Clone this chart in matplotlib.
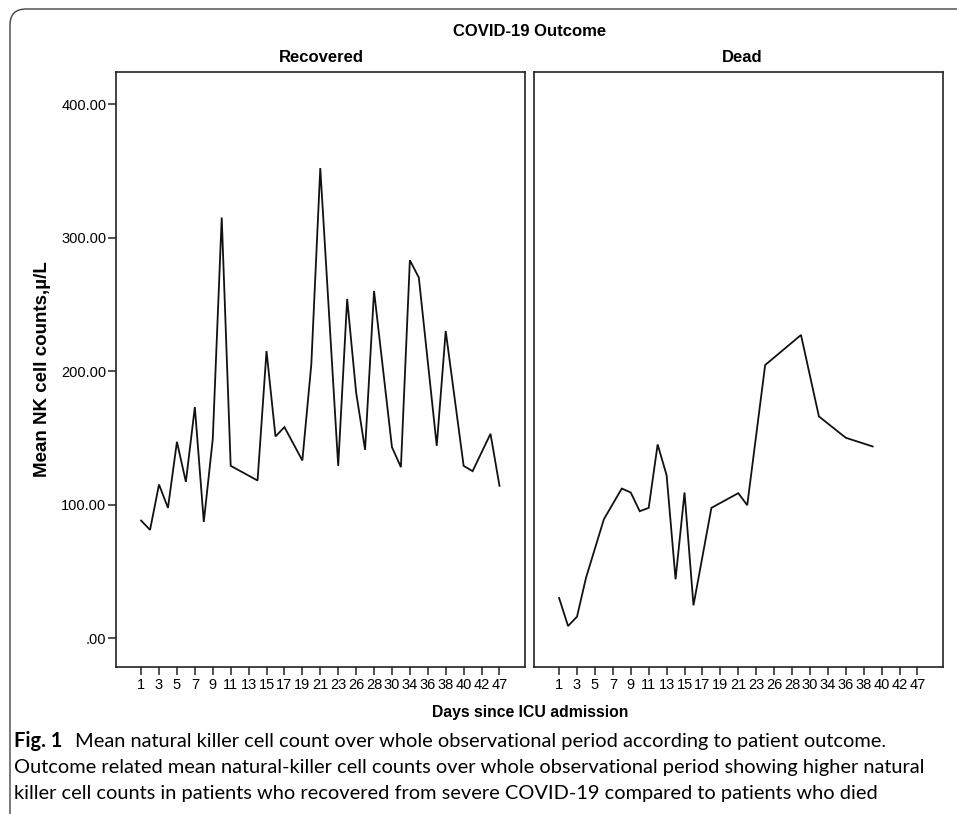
import numpy as np
import matplotlib
matplotlib.use("Agg")
import matplotlib.pyplot as plt
from matplotlib.patches import FancyBboxPatch
from matplotlib.transforms import IdentityTransform

plt.rcParams['font.family'] = ['Liberation Sans', 'DejaVu Sans']

# Day categories on the x axis (every other one labelled)
days = ["1", "2", "3", "4", "5", "6", "7", "8", "9", "10", "11", "12", "13", "14",
        "15", "16", "17", "18", "19", "20", "21", "22", "23", "25", "26", "27",
        "28", "29", "30", "32", "34", "35", "36", "37", "38", "39", "40", "41",
        "42", "44", "47"]

nan = np.nan
recovered = [88, 81, 115, 97.5, 147, 117, 173, 87, 149, 315, 129, nan, nan, 118,
             215, 151, 158, nan, 133, 205, 352, nan, 129, 254, 184, 141, 260, nan,
             143, 128, 283, 270, nan, 144, 230, nan, 129, 125, 139, 153, 114]
dead = [30, 9, 16, 45, nan, 89, nan, 112, 109, 95, 97.5, 145, 122, 44, 109, 24.5,
        nan, 97.5, nan, nan, 108.5, 99.5, nan, 204.5, nan, nan, nan, 227, nan, 166,
        nan, nan, 150, nan, nan, 143.5, nan, nan, nan, nan, nan]

yticks = [0, 100, 200, 300, 400]
ytick_labels = [".00", "100.00", "200.00", "300.00", "400.00"]

W, H = 957, 814
fig = plt.figure(figsize=(W / 100, H / 100), dpi=100)

top, bottom = 72, 667
axL = fig.add_axes([116 / W, 1 - bottom / H, (525 - 116) / W, (bottom - top) / H])
axR = fig.add_axes([534 / W, 1 - bottom / H, (943 - 534) / W, (bottom - top) / H])

x = np.arange(len(days))
for ax, vals in ((axL, recovered), (axR, dead)):
    v = np.array(vals, dtype=float)
    m = ~np.isnan(v)
    ax.plot(x[m], v[m], color='#111111', lw=1.3, solid_joinstyle='miter')
    ax.set_xlim(-2.8, len(days) - 1 + 2.85)
    ax.set_ylim(-21.7, 424)
    ax.set_xticks(x[::2])
    ax.set_xticklabels(days[::2], fontsize=10.5)
    for s in ax.spines.values():
        s.set_color('#222222')
        s.set_linewidth(1.2)
    ax.tick_params(axis='x', direction='out', length=6, width=1.1, color='#222222',
                   pad=2)

axL.set_yticks(yticks)
axL.set_yticklabels(ytick_labels, fontsize=10.5)
axL.tick_params(axis='y', direction='out', length=6, width=1.1, color='#222222', pad=1)
axR.set_yticks([])

axL.set_ylabel("Mean NK cell counts,µ/L", fontsize=13.5, fontweight='bold', labelpad=7)

def fx(px):
    return px / W

def fy(py):
    return 1 - py / H

fig.text(fx(530), fy(32), "COVID-19 Outcome", ha='center', va='center',
         fontsize=12, fontweight='bold')
fig.text(fx(321), fy(58), "Recovered", ha='center', va='center',
         fontsize=12, fontweight='bold')
fig.text(fx(742), fy(58), "Dead", ha='center', va='center',
         fontsize=12, fontweight='bold')
fig.text(fx(530), fy(712), "Days since ICU admission", ha='center', va='center',
         fontsize=11.3, fontweight='bold')

cap_font = ['Lato', 'DejaVu Sans']
fig.text(fx(14), fy(741), "Fig. 1", ha='left', va='center', fontsize=14.4,
         fontweight='bold', family=cap_font)
fig.text(fx(75), fy(741),
         "Mean natural killer cell count over whole observational period according to patient outcome.",
         ha='left', va='center', fontsize=14.4, family=cap_font)
fig.text(fx(14), fy(768),
         "Outcome related mean natural-killer cell counts over whole observational period showing higher natural",
         ha='left', va='center', fontsize=14.4, family=cap_font)
fig.text(fx(14), fy(794),
         "killer cell counts in patients who recovered from severe COVID-19 compared to patients who died",
         ha='left', va='center', fontsize=14.4, family=cap_font)

frame = FancyBboxPatch((10, -60), 1100, (H - 9) + 60, boxstyle='round,pad=0,rounding_size=16',
                       transform=IdentityTransform(), fill=False, edgecolor='#444444',
                       linewidth=1.0)
fig.patches.append(frame)

fig.savefig("out.png", dpi=100)
